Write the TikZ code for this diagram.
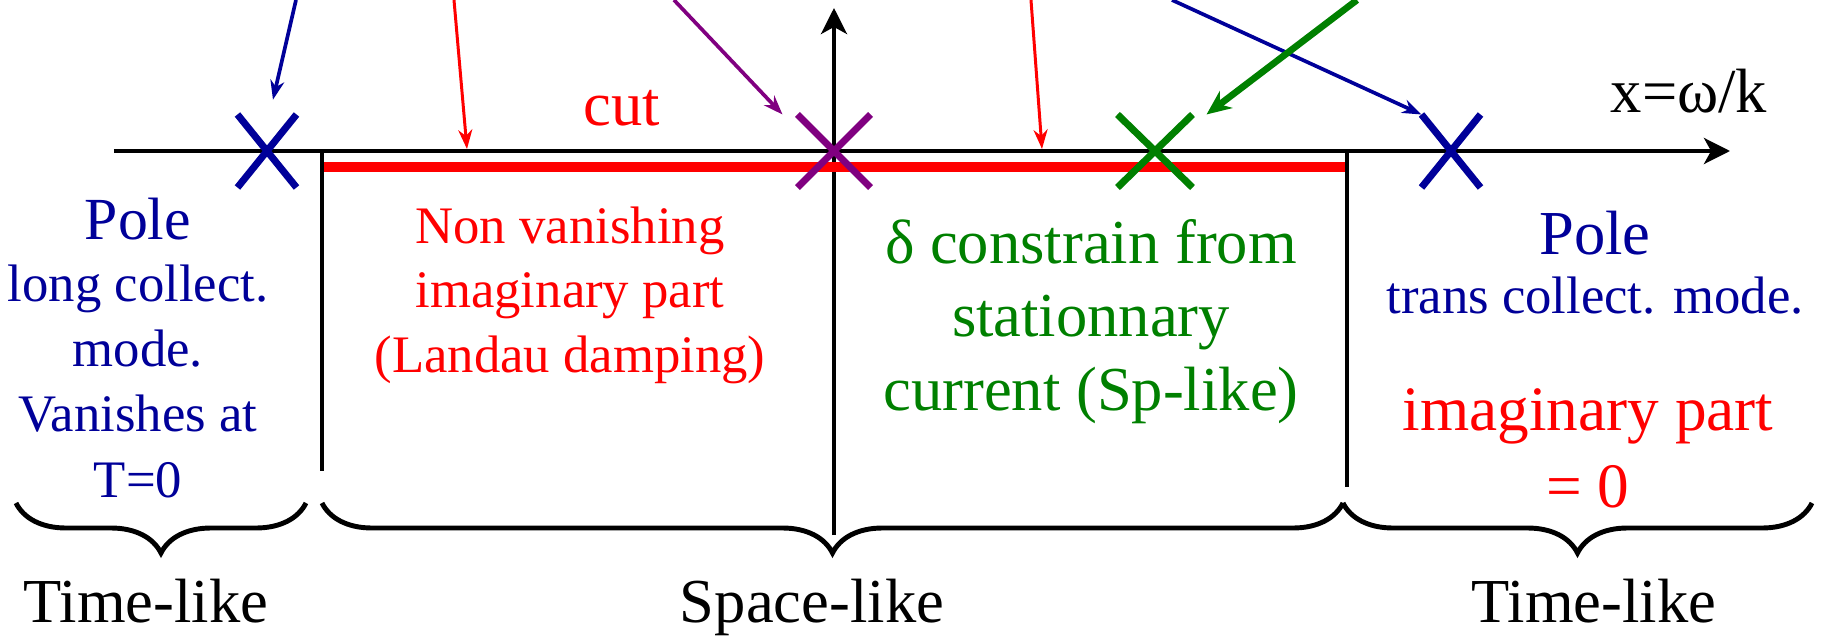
\documentclass[tikz,border=0pt]{standalone}
\usepackage{fontspec}
\setmainfont{Liberation Serif}
\usetikzlibrary{arrows.meta,shapes.misc,decorations.pathreplacing}
\definecolor{poleblue}{RGB}{0,0,153}
\definecolor{cutred}{RGB}{255,0,0}
\definecolor{deltagreen}{RGB}{0,128,0}
\definecolor{zeropurple}{RGB}{128,0,128}

\begin{document}
\begin{tikzpicture}[
 ax/.style={line width=1.1pt,-{Stealth[length=7.4pt,width=7.4pt,inset=2pt]}},
 sepline/.style={line width=1.1pt},
 cr/.style={cross out,draw,line width=2pt,inner sep=0pt,minimum height=0.66cm,minimum width=0.52cm},
 ptr/.style={line width=1.05pt,-{Stealth[length=5.5pt,width=4pt]}},
 big/.style={font=\fontsize{17.8}{21}\selectfont,align=center,anchor=base},
 sm/.style={font=\fontsize{15}{18.3}\selectfont,align=center,anchor=base},
 br/.style={line width=1.4pt,decorate,decoration={brace,mirror,amplitude=0.5cm}}]
\useasboundingbox (-8.34,-4.84) rectangle (10.05,1.51);
% axes
\coordinate (xa) at (-7.20,0); \coordinate (xb) at (8.96,0);
\coordinate (ya) at (0,-3.84); \coordinate (yb) at (0,1.43);
\draw[ax] (xa) -- (xb);
\draw[ax] (ya) -- (yb);
% the cut and its borders
\coordinate (ca) at (-5.12,-0.16); \coordinate (cb) at (5.13,-0.16);
\draw[cutred,line width=3.1pt] (ca) -- (cb);
\draw[sepline] (-5.12,0) -- (-5.12,-3.20);
\draw[sepline] (5.13,0) -- (5.13,-3.36);
% poles and zero
\node[cr,poleblue] (xl) at (-5.67,0) {};
\node[cr,zeropurple,minimum width=0.66cm] (xp) at (0,0) {};
\node[cr,deltagreen,minimum width=0.68cm] (xg) at (3.21,0) {};
\node[cr,poleblue] (xr) at (6.17,0) {};
% arrows coming from above
\coordinate (sl1) at (-5.38,1.51);
\coordinate (sr1) at (-3.80,1.51);
\coordinate (sp) at (-1.60,1.51);
\coordinate (sr2) at (1.97,1.51);
\coordinate (sl2) at (3.38,1.51);
\coordinate (sg) at (5.23,1.51);
\coordinate (c1) at (-3.67,0.02);
\coordinate (c2) at (2.08,0.02);
\draw[ptr,poleblue] (sl1) -- ([xshift=1.7pt,yshift=4.2pt]xl.north);
\draw[ptr,cutred,line width=0.85pt] (sr1) -- (c1);
\draw[ptr,zeropurple] (sp) -- ([xshift=-0.15cm]xp.north west);
\draw[ptr,cutred,line width=0.85pt] (sr2) -- (c2);
\draw[ptr,poleblue] (sl2) -- (xr.north west);
\draw[deltagreen,line width=1.9pt,-{Stealth[length=7pt,width=6pt]}] (sg) -- ([xshift=0.14cm]xg.north east);
% labels (multi-line ones sit on their last baseline)
\node[big,cutred] (cut) at (-2.12,0.25) {cut};
\node[big] (xlab) at (8.55,0.39) {x=ω/k};
\node[big,poleblue,font=\fontsize{17}{20}\selectfont] (lpole) at (-6.96,-0.88) {Pole};
\node[sm,poleblue,font=\fontsize{15}{18.5}\selectfont] (lmode) at (-6.96,-3.46) {long collect.\\mode.\\Vanishes at\\T=0};
\node[sm,cutred] (landau) at (-2.64,-2.21) {Non vanishing\\imaginary part\\(Landau damping)};
\node[big,deltagreen,font=\fontsize{17.8}{20.9}\selectfont] (stat) at (2.57,-2.59) {δ constrain from\\stationnary\\current (Sp-like)};
\node[big,poleblue] (rpole) at (7.61,-1.04) {Pole};
\node[sm,poleblue] (rmode) at (7.61,-1.62) {trans collect. mode.};
\node[big,cutred,font=\fontsize{18}{21.9}\selectfont] (rimag) at (7.54,-3.56) {imaginary part\\= 0};
% regions
\draw[br] (-8.18,-3.52) -- (-5.28,-3.52);
\draw[br] (-5.12,-3.52) -- (5.09,-3.52);
\draw[br] (5.09,-3.52) -- (9.78,-3.52);
\node[big] (time1) at (-6.88,-4.71) {Time-like};
\node[big] (space) at (-0.22,-4.71) {Space-like};
\node[big] (time2) at (7.60,-4.71) {Time-like};
\end{tikzpicture}
\end{document}
